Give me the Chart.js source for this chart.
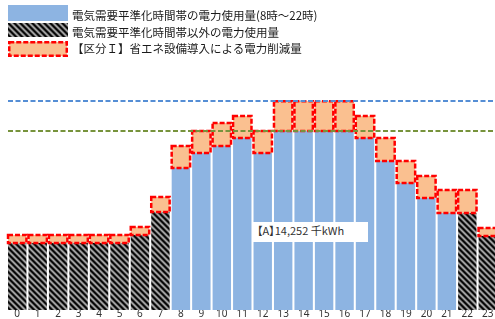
<!DOCTYPE html>
<html lang="ja">
<head>
<meta charset="utf-8">
<script src="https://cdn.jsdelivr.net/npm/chart.js@4/dist/chart.umd.min.js"></script>
<style>
    html, body { margin: 0; padding: 0; overflow: hidden; background: #fff; }
    #wrap { position: relative; width: 498px; height: 319px; }
    #chart { position: absolute; left: 0; top: 0; }
    .sw { position: absolute; left: 8px; }
    .lg {
        position: absolute; left: 72px; height: 16px; line-height: 16px;
        font: 11.5px "Noto Sans CJK JP", sans-serif; color: #1a1a1a; white-space: nowrap;
    }
    #note {
        position: absolute; left: 252px; top: 222px; width: 111px; height: 20px;
        padding-left: 5px; background: #fff; line-height: 20px;
        font: 11px "Noto Sans CJK JP", sans-serif; color: #333; white-space: nowrap;
        font-feature-settings: "palt";
    }
</style>
</head>
<body>
<div id="wrap">
    <canvas id="chart" width="498" height="319"></canvas>
    <canvas class="sw" id="sw-peak" width="60" height="16" style="top:5px"></canvas>
    <div class="lg" style="top:7px">電気需要平準化時間帯の電力使用量(8時～22時)</div>
    <canvas class="sw" id="sw-off" width="60" height="14" style="top:23px"></canvas>
    <div class="lg" style="top:24px">電気需要平準化時間帯以外の電力使用量</div>
    <canvas class="sw" id="sw-save" width="60" height="16" style="top:41px"></canvas>
    <div class="lg" style="top:40px">【区分Ｉ】省エネ設備導入による電力削減量</div>
    <div id="note">【A】14,252 千kWh</div>
</div>
<script>
// hours of the day
const hours = ['0','1','2','3','4','5','6','7','8','9','10','11','12','13','14','15','16','17','18','19','20','21','22','23'];

// power use, 千kWh
const peakUse = [null, null, null, null, null, null, null, null,
    935, 1034, 1080, 1132, 1034, 1178, 1178, 1178, 1178, 1132, 981, 836, 737, 639, null, null];
const offPeakUse = [441, 441, 441, 441, 441, 441, 494, 645,
    null, null, null, null, null, null, null, null, null, null, null, null, null, null, 639, 487];
const savings = [53, 53, 53, 53, 53, 53, 53, 99, 145, 145, 151, 145, 145, 197, 197, 197, 197, 145, 151, 145, 145, 151, 151, 53];

// reference levels (dashed lines)
const refLevels = [1376, 1178];

const BLUE = '#8db4e2';
const PEACH = '#fac090';
const RED = '#ff0000';
const refColors = ['#558ed5', '#77933c'];

// diagonal hatch used for off-peak bars
function makeHatch() {
    const c = document.createElement('canvas');
    c.width = 6; c.height = 6;
    const g = c.getContext('2d');
    const img = g.createImageData(6, 6);
    const shade = [0, 25, 100, 170, 140, 55];
    for (let y = 0; y < 6; y++) {
        for (let x = 0; x < 6; x++) {
            const t = ((x - y) % 6 + 6) % 6;
            const i = (y * 6 + x) * 4;
            img.data[i] = img.data[i + 1] = img.data[i + 2] = shade[t];
            img.data[i + 3] = 255;
        }
    }
    g.putImageData(img, 0, 0);
    return g.createPattern(c, 'repeat');
}

const chartCtx = document.getElementById('chart').getContext('2d');
const hatch = makeHatch();

// legend swatches
(function drawSwatches() {
    let g = document.getElementById('sw-peak').getContext('2d');
    g.fillStyle = BLUE; g.fillRect(0, 0, 60, 16);
    g = document.getElementById('sw-off').getContext('2d');
    g.fillStyle = makeHatch(); g.fillRect(0, 0, 60, 14);
    g = document.getElementById('sw-save').getContext('2d');
    g.fillStyle = PEACH; g.fillRect(1, 1, 58, 14);
    g.strokeStyle = RED; g.lineWidth = 2.5; g.setLineDash([5, 2]);
    g.strokeRect(1.25, 1.25, 57.5, 13.5);
})();

// dashed red outline on saving boxes + dashed reference lines
const overlayPlugin = {
    id: 'overlay',
    afterDatasetsDraw(chart) {
        const ctx = chart.ctx;
        const meta = chart.getDatasetMeta(2);
        ctx.save();
        ctx.strokeStyle = RED;
        ctx.lineWidth = 2.5;
        ctx.setLineDash([5, 2]);
        meta.data.forEach(bar => {
            const p = bar.getProps(['x', 'y', 'base', 'width'], true);
            ctx.strokeRect(p.x - p.width / 2, p.y, p.width, p.base - p.y);
        });
        const yScale = chart.scales.y;
        ctx.lineWidth = 2;
        ctx.setLineDash([5, 2.5]);
        refLevels.forEach((v, i) => {
            const y = Math.round(yScale.getPixelForValue(v));
            ctx.strokeStyle = refColors[i];
            ctx.beginPath();
            ctx.moveTo(chart.chartArea.left + 1, y);
            ctx.lineTo(chart.width, y);
            ctx.stroke();
        });
        ctx.restore();
    }
};

new Chart(chartCtx, {
    type: 'bar',
    data: {
        labels: hours,
        datasets: [
            { label: 'peak', data: peakUse, backgroundColor: BLUE, stack: 's' },
            { label: 'offpeak', data: offPeakUse, backgroundColor: hatch, stack: 's' },
            { label: 'savings', data: savings, backgroundColor: PEACH, stack: 's' }
        ]
    },
    options: {
        responsive: false,
        animation: false,
        devicePixelRatio: 1,
        layout: { padding: { left: 7, right: 0, top: 62, bottom: 0 } },
        datasets: { bar: { categoryPercentage: 1, barPercentage: 0.9, borderWidth: 0 } },
        plugins: { legend: { display: false }, tooltip: { enabled: false } },
        scales: {
            x: {
                stacked: true,
                grid: { display: false, drawTicks: false },
                border: { display: false },
                ticks: { color: '#333', padding: 0, font: { size: 10, lineHeight: 0.9, family: 'Noto Sans' } }
            },
            y: { stacked: true, display: false, min: 0, max: 1633 }
        }
    },
    plugins: [overlayPlugin]
});
</script>
</body>
</html>
